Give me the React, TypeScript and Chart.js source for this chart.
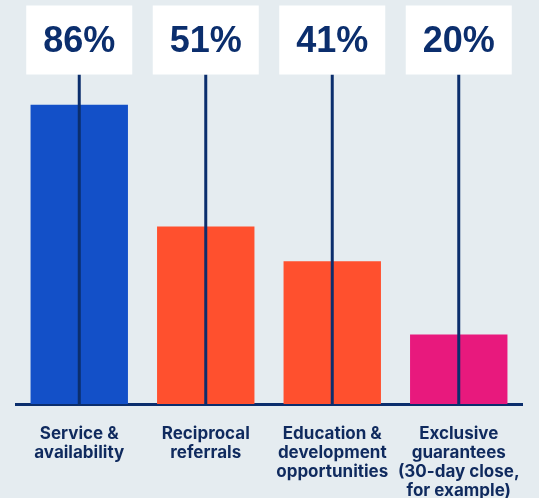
import React, { useEffect, useRef } from "react";
import { Chart, registerables } from "chart.js";

Chart.register(...registerables);

const categories: string[][] = [
  ["Service &", "availability"],
  ["Reciprocal", "referrals"],
  ["Education &", "development", "opportunities"],
  ["Exclusive", "guarantees", "(30-day close,", "for example)"],
];
const values: number[] = [86, 51, 41, 20];
const valueLabels: string[] = ["86%", "51%", "41%", "20%"];

const barColors = ["#1350c8", "#ff502e", "#ff502e", "#e8197d"];
const NAVY = "#0b2e6d";
const LABEL_NAVY = "#0f2a5e";
const BG = "#e5ecf0";

export default function App() {
  const ref = useRef<HTMLCanvasElement | null>(null);

  useEffect(() => {
    document.body.style.margin = "0";
    const canvas = ref.current;
    if (!canvas) return;

    const overlay = {
      id: "overlay",
      afterDatasetsDraw(chart: any) {
        const ctx = chart.ctx;
        const meta = chart.getDatasetMeta(0);
        const bottom = chart.chartArea.bottom;
        const boxTop = 5.5;
        const boxH = 69;
        const boxW = 106;
        meta.data.forEach((el: any, i: number) => {
          const x = el.x;
          ctx.save();
          ctx.strokeStyle = NAVY;
          ctx.lineWidth = 3;
          ctx.beginPath();
          ctx.moveTo(x, boxTop + boxH);
          ctx.lineTo(x, bottom);
          ctx.stroke();
          ctx.fillStyle = "#ffffff";
          ctx.fillRect(x - boxW / 2, boxTop, boxW, boxH);
          ctx.fillStyle = NAVY;
          ctx.font = "bold 36px 'Liberation Sans', Arial, sans-serif";
          ctx.textAlign = "center";
          ctx.textBaseline = "middle";
          ctx.fillText(valueLabels[i], x, boxTop + boxH / 2 + 2);
          ctx.restore();
        });
      },
    };

    const chart = new Chart(canvas, {
      type: "bar",
      data: {
        labels: categories,
        datasets: [
          {
            data: values,
            backgroundColor: barColors,
            borderWidth: 0,
            barPercentage: 0.77,
            categoryPercentage: 1,
          },
        ],
      },
      options: {
        animation: false,
        responsive: false,
        devicePixelRatio: 1,
        layout: { padding: { top: 56, left: 16, right: 17, bottom: 0 } },
        plugins: {
          legend: { display: false },
          tooltip: { enabled: false },
        },
        scales: {
          y: { display: false, min: 0, max: 100 },
          x: {
            z: 1,
            grid: { display: false, drawTicks: false, tickLength: 0 },
            border: { display: true, color: NAVY, width: 3 },
            afterFit: (scale: any) => {
              scale.height = 94;
              scale.paddingLeft = 0;
              scale.paddingRight = 0;
            },
            ticks: {
              color: LABEL_NAVY,
              padding: 20,
              autoSkip: false,
              maxRotation: 0,
              minRotation: 0,
              font: { family: "Inter, 'Noto Sans', sans-serif", size: 17, weight: "bold", lineHeight: 1.12 },
            },
          },
        },
      },
      plugins: [overlay],
    });
    return () => chart.destroy();
  }, []);

  return (
    <div style={{ width: 539, height: 498, background: BG }}>
      <canvas ref={ref} width={539} height={498} style={{ display: "block" }} />
    </div>
  );
}
